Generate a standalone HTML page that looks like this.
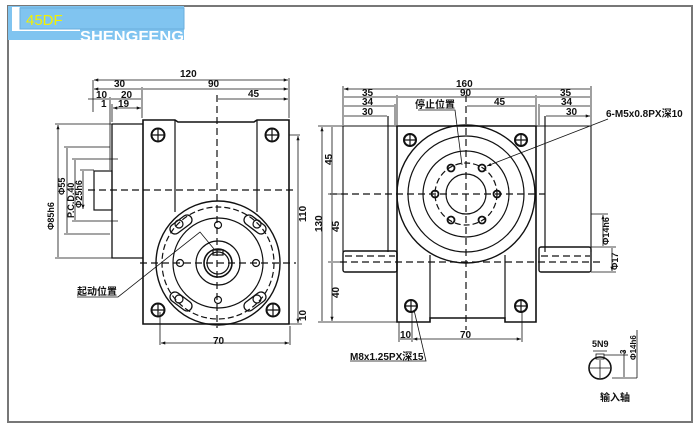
<!DOCTYPE html>
<html><head><meta charset="utf-8"><style>
html,body{margin:0;padding:0;background:#fff;}
svg{display:block;}
text{font-family:"Liberation Sans","Noto Sans CJK SC",sans-serif;font-weight:bold;fill:#111;}
</style></head><body>
<svg width="700" height="428" viewBox="0 0 700 428" xmlns="http://www.w3.org/2000/svg">
<defs>
<marker id="a" viewBox="0 0 8 6" refX="8" refY="3" markerWidth="6" markerHeight="4" orient="auto-start-reverse"><path d="M0,0L8,3L0,6z" fill="#111"/></marker>
</defs>
<!-- frame -->
<rect x="8" y="6" width="684" height="416" fill="none" stroke="#777" stroke-width="2"/>
<rect x="8" y="6" width="176" height="34" fill="#80c4f0"/>
<rect x="12" y="7" width="8" height="24" fill="#fff"/>
<rect x="12" y="29" width="68" height="2" fill="#fff"/>
<rect x="20" y="8" width="164" height="21" fill="#80c4f0" stroke="#6aaedc" stroke-width="1"/>
<text x="26" y="25" font-size="15" style="fill:#f4f000;font-weight:normal">45DF</text>
<text x="80" y="41" font-size="15" style="fill:#fff;font-weight:bold" textLength="104" lengthAdjust="spacingAndGlyphs">SHENGFENG</text>

<g stroke="#111" fill="none" stroke-width="1.2">
<!-- LEFT VIEW -->
<path d="M112,124 H143 M112,124 V258 H143" stroke-width="1.3"/>
<rect x="94" y="171" width="18" height="39"/>
<path d="M143,120 H175 L178,122 H254 L257,120 H289 V324 H143 Z" stroke-width="1.6"/>
<line x1="175" y1="120" x2="175" y2="212"/>
<line x1="257" y1="120" x2="257" y2="212"/>
<circle cx="158" cy="135" r="6.5" stroke-width="2"/><path d="M152,135h12M158,129v12"/>
<circle cx="272" cy="135" r="6.5" stroke-width="2"/><path d="M266,135h12M272,129v12"/>
<circle cx="158" cy="310" r="6.5" stroke-width="2"/><path d="M152,310h12M158,304v12"/>
<circle cx="273" cy="310" r="6.5" stroke-width="2"/><path d="M267,310h12M273,304v12"/>
<circle cx="218" cy="263" r="62" stroke-width="1.4"/>
<circle cx="218" cy="263" r="56" stroke-dasharray="6,3"/>
<circle cx="218" cy="263" r="45"/>
<circle cx="218" cy="263" r="22"/>
<circle cx="218" cy="263" r="14" stroke-width="1.6"/>
<circle cx="218" cy="263" r="11"/>
<rect x="213" y="250" width="10" height="5"/>
<circle cx="218" cy="225" r="3.5"/><circle cx="218" cy="300" r="3.5"/>
<circle cx="180" cy="263" r="3.5"/><circle cx="256" cy="263" r="3.5"/>
<g stroke-width="1.3">
<path d="M172,225 l12,-9 a5,5 0 0 1 6,8 l-12,9 a5,5 0 0 1 -6,-8z"/>
<path d="M264,225 l-12,-9 a5,5 0 0 0 -6,8 l12,9 a5,5 0 0 0 6,-8z"/>
<path d="M172,301 l12,9 a5,5 0 0 0 6,-8 l-12,-9 a5,5 0 0 0 -6,8z"/>
<path d="M264,301 l-12,9 a5,5 0 0 1 -6,-8 l12,-9 a5,5 0 0 1 6,8z"/>
</g>
<circle cx="179" cy="224" r="4"/><circle cx="257" cy="224" r="4"/>
<circle cx="179" cy="299" r="4"/><circle cx="257" cy="299" r="4"/>
<g stroke-dasharray="7,4"><line x1="217" y1="95" x2="217" y2="328"/><line x1="88" y1="190" x2="296" y2="190"/><line x1="140" y1="263" x2="296" y2="263"/></g>
<!-- left dims -->
<line x1="93" y1="80" x2="93" y2="112" stroke-width="0.8"/>
<line x1="289" y1="78" x2="289" y2="118" stroke-width="0.8"/>
<line x1="142" y1="87" x2="142" y2="118" stroke-width="0.8"/>
<line x1="110" y1="97" x2="110" y2="170" stroke-width="0.8"/>
<line x1="112" y1="104" x2="112" y2="122" stroke-width="0.8"/>
<path d="M94,80H288" marker-start="url(#a)" marker-end="url(#a)" stroke-width="0.8"/>
<path d="M94,89H141M143,89H288" marker-start="url(#a)" marker-end="url(#a)" stroke-width="0.8"/>
<path d="M88,99H109M111,99H141M218,99H288" marker-end="url(#a)" stroke-width="0.8"/>
<path d="M113,108H141" marker-start="url(#a)" marker-end="url(#a)" stroke-width="0.8"/>
<g stroke-width="0.8">
<path d="M55,124H112M64,147H110M72,159H118M80,170H94M72,221H118M64,234H110M55,258H112"/>
<path d="M58,125V257M67,148V233M75,160V220M83,171V209" marker-start="url(#a)" marker-end="url(#a)"/>
<path d="M289,135H300M289,324H302M160,312V345M290,326V345"/>
<path d="M298,136V323" marker-start="url(#a)" marker-end="url(#a)"/>
<path d="M161,343H289" marker-start="url(#a)" marker-end="url(#a)"/>
<path d="M77,297H118L200,232L214,249"/>
</g>

<!-- RIGHT VIEW -->
<path d="M343,252V126H397 M536,126H591V252" stroke-width="1.1"/>
<path d="M388,116V252M545,116V252"/>
<rect x="343" y="251" width="54" height="21" rx="2" stroke-width="1.4"/>
<rect x="539" y="247" width="52" height="25" rx="2" stroke-width="1.4"/>
<path d="M397,126H536V322H505V318H430V322H397Z" stroke-width="1.6"/>
<path d="M430,255V318M505,255V318"/>
<circle cx="466" cy="194" r="69" stroke-width="1.4"/>
<circle cx="466" cy="194" r="58"/>
<circle cx="466" cy="194" r="43"/>
<circle cx="466" cy="194" r="31" stroke-dasharray="6,3"/>
<circle cx="466" cy="194" r="20"/>
<g stroke-width="1.8">
<circle cx="435" cy="194" r="3.5"/><circle cx="497" cy="194" r="3.5"/>
<circle cx="451" cy="168" r="3.5"/><circle cx="482" cy="168" r="3.5"/>
<circle cx="451" cy="220" r="3.5"/><circle cx="482" cy="220" r="3.5"/>
</g>
<circle cx="410" cy="140" r="6" stroke-width="2"/><path d="M404,140h12M410,134v12"/>
<circle cx="521" cy="140" r="6" stroke-width="2"/><path d="M515,140h12M521,134v12"/>
<circle cx="411" cy="306" r="6" stroke-width="2"/><path d="M405,306h12M411,300v12"/>
<circle cx="521" cy="306" r="6" stroke-width="2"/><path d="M515,306h12M521,300v12"/>
<g stroke-dasharray="7,4"><line x1="466" y1="95" x2="466" y2="330"/><line x1="330" y1="194" x2="545" y2="194"/><line x1="340" y1="262" x2="600" y2="262"/><path d="M345,256H395M541,256H590"/></g>
<g stroke-width="0.8">
<path d="M343,86V125M591,86V125M397,95V125M536,95V125M395,104V125M539,104V125"/>
<path d="M344,89H590M344,97H396M398,97H535M537,97H590M344,106H394M467,106H535M540,106H590M344,116H387M546,116H590" marker-start="url(#a)" marker-end="url(#a)"/>
<path d="M318,126H343M328,194H343M328,262H343M318,322H397"/>
<path d="M322,127V321M332,127V193M332,195V261M332,263V321" marker-start="url(#a)" marker-end="url(#a)"/>
<path d="M399,322V342M412,312V342M522,312V342"/>
<path d="M413,339H521" marker-start="url(#a)" marker-end="url(#a)"/>
<path d="M400,339H411"/>
<path d="M350,361H426L414,310" /><path d="M418,110H455L462,165"/>
<path d="M608,119L487,166" marker-end="url(#a)"/>
<path d="M591,214H608M591,247H616M591,272H616"/>
<path d="M603,215V246M612,248V271" marker-start="url(#a)" marker-end="url(#a)"/>
<!-- input shaft -->
<circle cx="600" cy="368" r="11" stroke-width="1.6"/>
<rect x="596" y="354" width="8" height="5"/>
<path d="M590,368h20M600,360v18M593,351H607M604,355H628M612,378H637M624,350V377M637,330V378"/>
</g>
</g>
<g font-size="10">
<text x="180" y="77">120</text>
<text x="114" y="87">30</text><text x="208" y="87">90</text>
<text x="96" y="98">10</text><text x="121" y="98">20</text><text x="248" y="97">45</text>
<text x="101" y="107">1</text><text x="118" y="107">19</text>
<text x="213" y="344">70</text>
<text transform="translate(306,222) rotate(-90)">110</text>
<text transform="translate(306,321) rotate(-90)">10</text>
<text transform="translate(54,230) rotate(-90)" font-size="9">Φ85h6</text>
<text transform="translate(65,195) rotate(-90)" font-size="9">Φ55</text>
<text transform="translate(74,218) rotate(-90)" font-size="9">P.C.D.40</text>
<text transform="translate(82,208) rotate(-90)" font-size="9">Φ25h6</text>
<text x="77" y="295" font-size="10">起动位置</text>
<text x="456" y="87">160</text>
<text x="362" y="96">35</text><text x="460" y="96">90</text><text x="560" y="96">35</text>
<text x="362" y="105">34</text><text x="494" y="105">45</text><text x="561" y="105">34</text>
<text x="362" y="115">30</text><text x="566" y="115">30</text>
<text x="415" y="108" font-size="10">停止位置</text>
<text x="606" y="117" font-size="10">6-M5x0.8PX深10</text>
<text transform="translate(332,165) rotate(-90)">45</text>
<text transform="translate(322,232) rotate(-90)">130</text>
<text transform="translate(339,232) rotate(-90)">45</text>
<text transform="translate(339,298) rotate(-90)">40</text>
<text x="400" y="338">10</text><text x="460" y="338">70</text>
<text x="350" y="360" font-size="10">M8x1.25PX深15</text>
<text transform="translate(609,245) rotate(-90)" font-size="9">Φ14h6</text>
<text transform="translate(618,270) rotate(-90)" font-size="9">Φ17</text>
<text x="592" y="347" font-size="9">5N9</text>
<text transform="translate(626,354) rotate(-90)" font-size="8">3</text>
<text transform="translate(636,360) rotate(-90)" font-size="8">Φ14h6</text>
<text x="600" y="401" font-size="10">输入轴</text>
</g>
</svg>
</body></html>
